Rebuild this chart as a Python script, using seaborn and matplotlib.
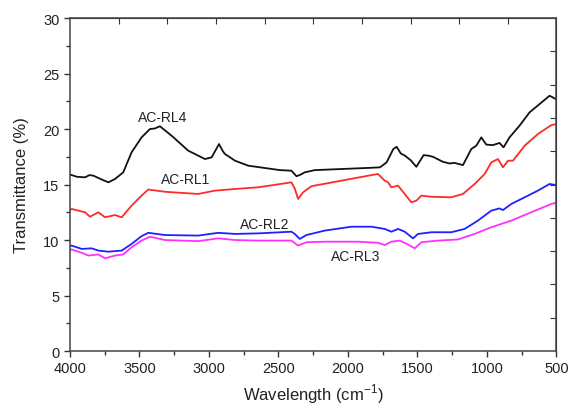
import matplotlib
matplotlib.use("Agg")
import matplotlib.pyplot as plt
import seaborn as sns
import pandas as pd

# AC-RL4 (black)
wn_rl4 = [4000, 3950, 3892, 3860, 3832, 3780, 3724, 3676, 3617, 3557, 3485, 3425, 3390,
          3353, 3269, 3149, 3029, 2981, 2928, 2900, 2885, 2813, 2718, 2575, 2489, 2407,
          2371, 2340, 2311, 2239, 2046, 1850, 1770, 1722, 1674, 1650, 1620, 1590, 1550,
          1508, 1456, 1420, 1389, 1317, 1270, 1233, 1173, 1113, 1077, 1041, 1005, 958,
          910, 881, 838, 766, 694, 622, 550, 526, 505]
t_rl4 = [15.9, 15.7, 15.65, 15.85, 15.8, 15.5, 15.2, 15.5, 16.1, 17.9, 19.25, 20.0, 20.05,
         20.25, 19.4, 18.05, 17.3, 17.45, 18.65, 18.0, 17.75, 17.15, 16.7, 16.45, 16.3, 16.25,
         15.75, 15.9, 16.1, 16.3, 16.4, 16.5, 16.55, 17.0, 18.2, 18.4, 17.8, 17.6, 17.2,
         16.6, 17.65, 17.6, 17.5, 17.05, 16.9, 16.95, 16.75, 18.2, 18.5, 19.25, 18.6, 18.55,
         18.75, 18.35, 19.25, 20.3, 21.5, 22.25, 23.0, 22.85, 22.7]

# AC-RL1 (red)
wn_rl1 = [4000, 3988, 3892, 3856, 3796, 3748, 3676, 3628, 3557, 3485, 3437, 3317, 3078,
          2958, 2813, 2646, 2407, 2383, 2359, 2323, 2263, 2047, 1832, 1784, 1736, 1712,
          1688, 1640, 1592, 1544, 1508, 1472, 1400, 1257, 1173, 1089, 1017, 969, 921, 885,
          849, 813, 729, 634, 538, 502]
t_rl1 = [12.7, 12.8, 12.5, 12.1, 12.5, 12.05, 12.25, 12.05, 13.1, 14.0, 14.55, 14.35, 14.15,
         14.45, 14.6, 14.75, 15.2, 14.65, 13.7, 14.3, 14.85, 15.35, 15.85, 15.95, 15.35, 15.2,
         14.75, 14.9, 14.15, 13.4, 13.55, 14.0, 13.9, 13.85, 14.15, 15.05, 15.95, 17.0, 17.3, 16.55,
         17.15, 17.15, 18.5, 19.55, 20.35, 20.45]

# AC-RL2 (blue)
wn_rl2 = [4000, 3988, 3916, 3844, 3796, 3724, 3628, 3557, 3485, 3437, 3317, 3078, 2934,
          2813, 2646, 2407, 2383, 2347, 2299, 2167, 1976, 1832, 1736, 1688, 1640, 1592,
          1532, 1496, 1400, 1257, 1161, 1065, 969, 910, 885, 825, 729, 634, 550, 502]
t_rl2 = [9.45, 9.5, 9.2, 9.25, 9.05, 8.95, 9.05, 9.65, 10.35, 10.65, 10.45, 10.4, 10.65,
         10.55, 10.6, 10.75, 10.55, 10.1, 10.45, 10.85, 11.2, 11.2, 11.0, 10.75, 11.0, 10.75,
         10.15, 10.55, 10.7, 10.7, 11.0, 11.75, 12.65, 12.85, 12.7, 13.25, 13.85, 14.45, 15.05, 14.95]

# AC-RL3 (magenta)
wn_rl3 = [4000, 3988, 3916, 3868, 3796, 3748, 3676, 3617, 3557, 3485, 3425, 3317, 3078,
          2934, 2813, 2646, 2407, 2359, 2299, 2167, 1928, 1784, 1736, 1688, 1628, 1568,
          1520, 1472, 1352, 1209, 1089, 969, 825, 682, 538, 502]
t_rl3 = [9.1, 9.15, 8.85, 8.6, 8.7, 8.35, 8.6, 8.7, 9.35, 9.95, 10.3, 10.0, 9.9,
         10.15, 10.0, 9.95, 9.95, 9.5, 9.8, 9.85, 9.85, 9.75, 9.55, 9.85, 9.95, 9.6,
         9.25, 9.8, 9.95, 10.05, 10.55, 11.15, 11.75, 12.5, 13.25, 13.35]

names = ["AC-RL4", "AC-RL1", "AC-RL2", "AC-RL3"]
colors = ["#111111", "#ff2a2a", "#2020ff", "#ff30ff"]
series = [(wn_rl4, t_rl4), (wn_rl1, t_rl1), (wn_rl2, t_rl2), (wn_rl3, t_rl3)]

# label positions (wavenumber, transmittance)
label_x = [3330, 3170, 2600, 1945]
label_y = [21.1, 15.5, 11.45, 8.6]

sns.set_style("ticks")
plt.rcParams["font.family"] = ["Liberation Sans", "DejaVu Sans"]
plt.rcParams["mathtext.fontset"] = "custom"
plt.rcParams["mathtext.rm"] = "Liberation Sans"

fig = plt.figure(figsize=(5.7, 4.06), dpi=100)
ax = fig.add_axes([0.1228, 0.133, 0.8535, 0.820])

for name, col, (wn, t) in zip(names, colors, series):
    df = pd.DataFrame({"wn": wn, "t": t})
    sns.lineplot(data=df, x="wn", y="t", color=col, linewidth=1.3, ax=ax)

for name, lx, ly in zip(names, label_x, label_y):
    ax.text(lx, ly, name, ha="center", va="center", fontsize=10, color="#222222")

ax.set_xlim(4000, 500)
ax.set_ylim(0, 30)
ax.set_xticks(range(4000, 499, -500))
ax.set_xticks(range(3750, 500, -500), minor=True)
ax.set_yticks(range(0, 31, 5))
ax.set_yticks([2.5 + 5 * i for i in range(6)], minor=True)
ax.tick_params(which="both", direction="out", color="#333333", labelsize=10.5,
               labelcolor="#222222")
ax.tick_params(which="major", length=4, width=1)
ax.tick_params(which="minor", length=3, width=1)
for s in ax.spines.values():
    s.set_color("#444444")
    s.set_linewidth(1.1)

sec_x = ax.secondary_xaxis("top")
sec_x.set_xticks([4000 - 350 * k for k in range(1, 10)])
sec_x.set_xticklabels([])
sec_x.tick_params(direction="in", length=4, color="#333333")
sec_y = ax.secondary_yaxis("right")
sec_y.set_yticks([3 * k for k in range(1, 10)])
sec_y.set_yticklabels([])
sec_y.tick_params(direction="in", length=4, color="#333333")

ax.set_xlabel(r"Wavelength (cm$^{\mathregular{-1}}$)", fontsize=12, color="#222222",
              labelpad=4)
ax.set_ylabel("Transmittance (%)", fontsize=12, color="#222222", labelpad=10)

fig.savefig("out.png", dpi=100, facecolor="white")
